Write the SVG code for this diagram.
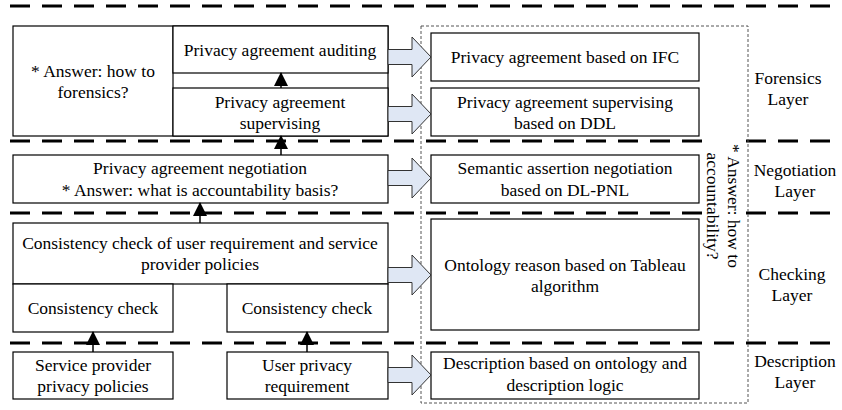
<svg xmlns="http://www.w3.org/2000/svg" width="842" height="410" viewBox="0 0 842 410" font-family="'Liberation Serif', 'Times New Roman', serif">
<defs>
<style>
text{font-family:"Liberation Serif","Times New Roman",serif;font-size:17.5px;fill:#000;text-anchor:middle}
.box{fill:#fff;stroke:#000;stroke-width:1.2}
.layer{stroke:#000;stroke-width:3;stroke-dasharray:20 12}
.dotted{fill:none;stroke:#555;stroke-width:1;stroke-dasharray:3 2}
.big{fill:#dfe7f4;stroke:#333;stroke-width:1}
.up{stroke:#000;stroke-width:1.5;marker-end:url(#ah)}
</style>
<marker id="ah" viewBox="0 0 14 14" refX="13" refY="7" markerWidth="14" markerHeight="14" markerUnits="userSpaceOnUse" orient="auto">
<path d="M0,0 L14,7 L0,14 Z" fill="#000"/>
</marker>
</defs>
<rect width="842" height="410" fill="#fff"/>

<g id="layer-lines">
<line class="layer" x1="10" y1="6" x2="842" y2="6"/>
<line class="layer" x1="10" y1="141" x2="842" y2="141"/>
<line class="layer" x1="10" y1="213" x2="842" y2="213"/>
<line class="layer" x1="10" y1="343" x2="842" y2="343"/>
</g>

<g id="accountability-frame">
<rect class="dotted" x="421" y="26" width="327" height="377"/>
</g>

<g id="forensics-left">
<rect class="box" x="13" y="26" width="375" height="110"/>
<line x1="173" y1="26" x2="173" y2="136" stroke="#000" stroke-width="1.2"/>
<text x="93" y="77">* Answer: how to</text>
<text x="93" y="98">forensics?</text>
</g>
<g id="auditing">
<rect class="box" x="173" y="26" width="215" height="47"/>
<text x="280" y="56">Privacy agreement auditing</text>
</g>
<g id="supervising">
<rect class="box" x="173" y="88" width="215" height="48"/>
<text x="280" y="108">Privacy agreement</text>
<text x="280" y="129">supervising</text>
</g>
<g id="negotiation">
<rect class="box" x="13" y="155" width="375" height="48"/>
<text x="200" y="174">Privacy agreement negotiation</text>
<text x="200" y="196">* Answer: what is accountability basis?</text>
</g>
<g id="consistency-main">
<rect class="box" x="13" y="223" width="375" height="61"/>
<text x="200" y="249">Consistency check of user requirement and service</text>
<text x="200" y="270">provider policies</text>
</g>
<g id="consistency-left">
<rect class="box" x="13" y="284" width="160" height="48"/>
<text x="93" y="314">Consistency check</text>
</g>
<g id="consistency-right">
<rect class="box" x="227" y="284" width="161" height="48"/>
<text x="307" y="314">Consistency check</text>
</g>
<g id="provider-policies">
<rect class="box" x="13" y="352" width="160" height="47"/>
<text x="93" y="371">Service provider</text>
<text x="93" y="392">privacy policies</text>
</g>
<g id="user-requirement">
<rect class="box" x="227" y="352" width="161" height="47"/>
<text x="307" y="371">User privacy</text>
<text x="307" y="392">requirement</text>
</g>

<g id="ifc">
<rect class="box" x="431" y="33" width="268" height="48"/>
<text x="565" y="63">Privacy agreement based on IFC</text>
</g>
<g id="ddl">
<rect class="box" x="431" y="88" width="268" height="48"/>
<text x="565" y="108">Privacy agreement supervising</text>
<text x="565" y="129">based on DDL</text>
</g>
<g id="dl-pnl">
<rect class="box" x="431" y="155" width="268" height="48"/>
<text x="565" y="174">Semantic assertion negotiation</text>
<text x="565" y="196">based on DL-PNL</text>
</g>
<g id="tableau">
<rect class="box" x="431" y="219" width="268" height="111"/>
<text x="565" y="271">Ontology reason based on Tableau</text>
<text x="565" y="292">algorithm</text>
</g>
<g id="ontology-description">
<rect class="box" x="431" y="352" width="268" height="47"/>
<text x="565" y="369">Description based on ontology and</text>
<text x="565" y="391">description logic</text>
</g>

<g id="accountability-note">
<rect x="703" y="136" width="34" height="138" fill="#fff"/>
<text transform="translate(728,206) rotate(90)">* Answer: how to<tspan x="0" dy="21">accountability?</tspan></text>
</g>

<g id="layer-labels">
<text x="788" y="84">Forensics</text>
<text x="788" y="105">Layer</text>
<text x="795" y="176">Negotiation</text>
<text x="795" y="197">Layer</text>
<text x="792" y="280">Checking</text>
<text x="792" y="301">Layer</text>
<text x="795" y="367">Description</text>
<text x="795" y="388">Layer</text>
</g>

<g id="connectors">
<path class="big" d="M388,49.5 H412 V37 L431,57 L412,77 V64.5 H388 Z"/>
<path class="big" d="M388,106.5 H412 V94 L431,114 L412,134 V121.5 H388 Z"/>
<path class="big" d="M388,170.5 H412 V158 L431,178 L412,198 V185.5 H388 Z"/>
<path class="big" d="M388,267.5 H412 V255 L431,275 L412,295 V282.5 H388 Z"/>
<path class="big" d="M388,367.5 H412 V355 L431,375 L412,395 V382.5 H388 Z"/>
<line class="up" x1="281" y1="88" x2="281" y2="73"/>
<line class="up" x1="281" y1="155" x2="281" y2="136"/>
<line class="up" x1="200" y1="223" x2="200" y2="203"/>
<line class="up" x1="93" y1="352" x2="93" y2="332"/>
<line class="up" x1="307" y1="352" x2="307" y2="332"/>
</g>
</svg>
